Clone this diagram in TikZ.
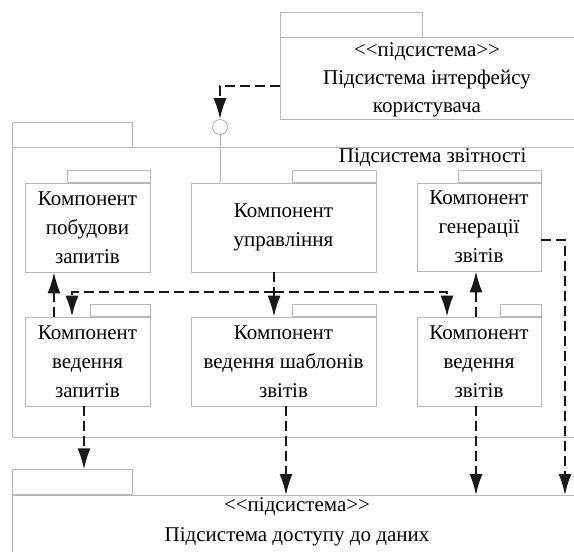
\documentclass[tikz,border=0pt]{standalone}
\usepackage{fontspec}
\setmainfont{Liberation Serif}
\usetikzlibrary{arrows.meta,positioning}

\begin{document}
\begin{tikzpicture}[x=1pt,y=-1pt,
  pkg/.style={draw=black!28,line width=0.7pt},
  comp/.style={pkg,align=center,inner sep=0pt,font=\fontsize{21}{29}\selectfont},
  dep/.style={draw=black!90,line width=1.8pt,dash pattern=on 10pt off 5pt,
    -{Latex[length=21pt,width=13pt]}}]
\clip (0,0) rectangle (574,552);
\fill[white] (0,0) rectangle (574,552);

% interface subsystem
\draw[pkg] (280,12) rectangle (422,37);
\node[pkg,minimum width=310pt,minimum height=82pt,anchor=north west] (ui) at (280,37) {};
\node[align=center,font=\fontsize{21}{28}\selectfont] (uitext) at (427,80)
  {<{}<підсистема>{}>\\Підсистема інтерфейсу\\користувача};
\node[circle,draw=black!35,line width=0.7pt,minimum size=15pt,inner sep=0pt] (iface) at (220,127) {};

% reporting subsystem
\draw[pkg] (12,122) rectangle (132,147);
\node[pkg,minimum width=600pt,minimum height=290pt,anchor=north west] (rep) at (12,147) {};
\node[anchor=east,font=\fontsize{21}{24}\selectfont] (reptitle) at (530,158) {Підсистема звітності};

\node[comp,minimum width=125pt,minimum height=89pt] (qbuild) at (87.5,227.5) {Компонент\\побудови\\запитів};
\node[comp,minimum width=185pt,minimum height=89pt] (ctrl) at (283.5,227.5) {Компонент\\управління};
\node[comp,minimum width=124pt,minimum height=88pt] (rgen) at (479,227) {Компонент\\генерації\\звітів};
\node[comp,minimum width=125pt,minimum height=89pt] (qman) at (87.5,361.5) {Компонент\\ведення\\запитів};
\node[comp,minimum width=185pt,minimum height=89pt] (tmpl) at (283.5,361.5) {Компонент\\ведення шаблонів\\звітів};
\node[comp,minimum width=124pt,minimum height=89pt] (rman) at (479,361.5) {Компонент\\ведення\\звітів};
\foreach \b/\w in {qbuild/83,ctrl/84,rgen/83,qman/60,tmpl/84,rman/41}
  \draw[pkg] (\b.north east) rectangle ++(-\w,-12);

% data subsystem
\node[pkg,minimum width=120pt,minimum height=25pt,anchor=south west] (datatab) at (12,495) {};
\node[pkg,minimum width=600pt,minimum height=80pt,anchor=north west] (data) at (12,495) {};
\node[align=center,font=\fontsize{21}{24}\selectfont] (datatext) at (297,522)
  {<{}<підсистема>{}>\\[6pt]Підсистема доступу до даних};

% connectors
\draw[dep] ([yshift=-8pt]ui.west) -| (iface.north);
\draw[pkg] (iface.south) -- (iface.south |- ctrl.north);
\coordinate (split) at (274,292);
\coordinate (rside) at (565,240);
\draw[dep] (ctrl.south -| split) -- (tmpl.north -| split);
\draw[dep] (split) -| ([xshift=-15.5pt]qman.north);
\draw[dep] (split) -| ([xshift=-32pt]rman.north);
\draw[dep] ([xshift=-33.5pt]qman.north) -- ([xshift=-33.5pt]qbuild.south);
\draw[dep] ([xshift=-3pt]rman.north) -- ([xshift=-3pt]rgen.south);
\draw[dep] ([xshift=-3.5pt]qman.south) -- ([xshift=-3.5pt]qman.south |- datatab.north);
\draw[dep] ([xshift=2.5pt]tmpl.south) -- ([xshift=2.5pt]tmpl.south |- data.north);
\draw[dep] ([xshift=-3pt]rman.south) -- ([xshift=-3pt]rman.south |- data.north);
\draw[dep] ([yshift=-13pt]rgen.east) -| (data.north -| rside);
\end{tikzpicture}
\end{document}
